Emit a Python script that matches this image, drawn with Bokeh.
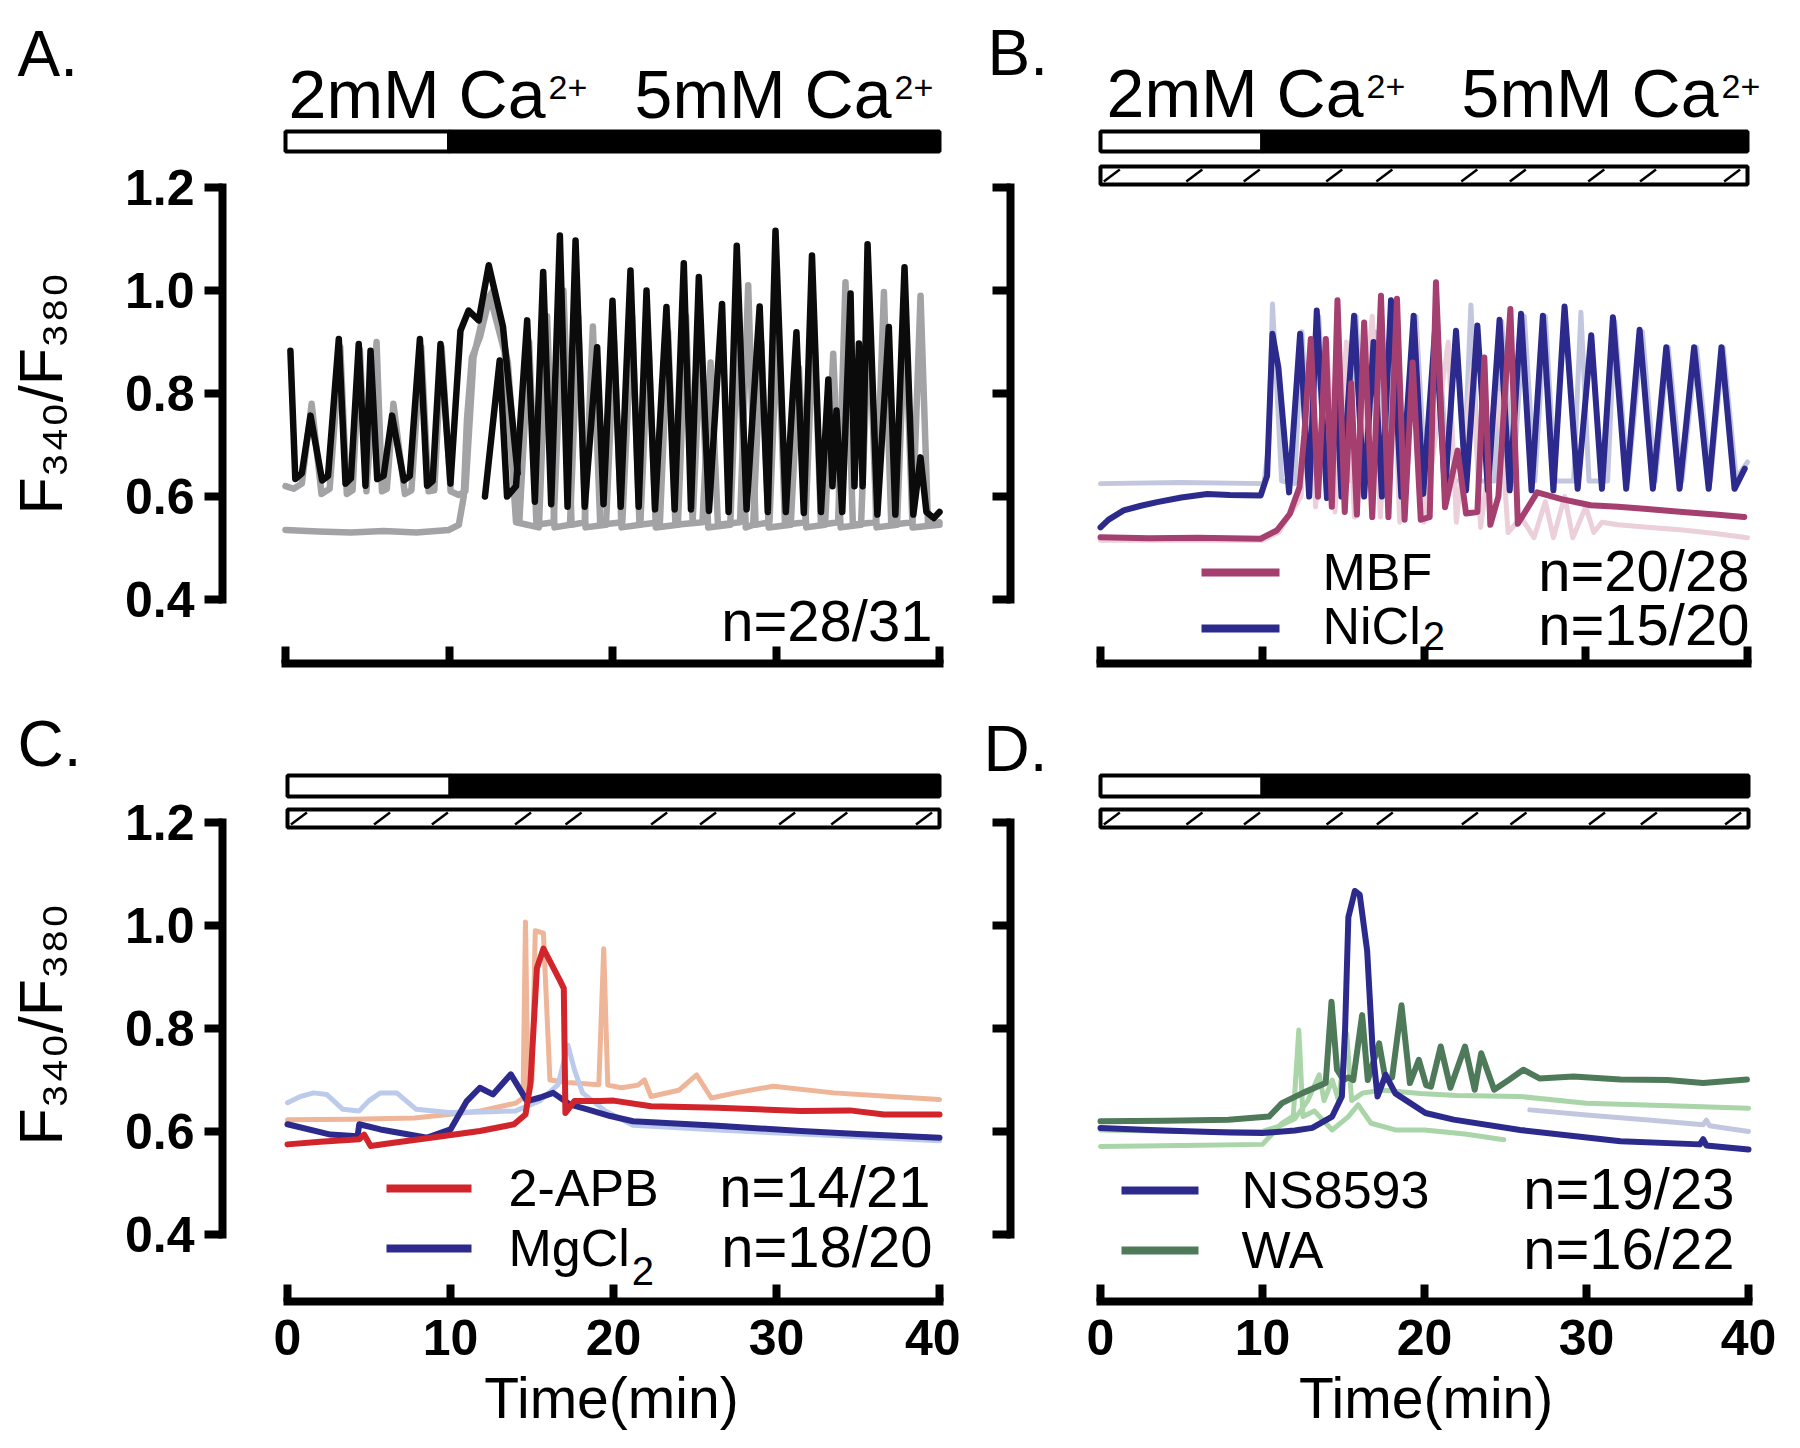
import math
from bokeh.plotting import figure
from bokeh.models import Range1d, FixedTicker, PrintfTickFormatter, CustomJSTickFormatter
from bokeh.layouts import column, row
from bokeh.core.properties import value
from bokeh.embed import file_html
from bokeh.resources import INLINE

FONT = "Liberation Sans"

# ---------------- data ----------------
TIME_TICKS = [0, 10, 20, 30, 40]
RATIO_TICKS = [0.4, 0.6, 0.8, 1.0, 1.2]
PHASE_START = [0, 10]      # 2 mM Ca2+ then 5 mM Ca2+
PHASE_END = [10, 40]
PHASE_FILL = ["white", "black"]

# Panel A (control)
A_BLACK1_T = [0.3, 0.6, 1.0, 1.53, 2.24, 2.6, 3.26, 3.67, 4.0, 4.48, 4.89, 5.2, 5.61, 6.0, 6.52, 7.24, 7.6, 8.22, 8.66, 9.0,
              9.48, 10.09, 10.7, 11.2, 11.82, 12.43, 13.3, 14.2]
A_BLACK1_R = [0.883, 0.634, 0.645, 0.757, 0.631, 0.64, 0.906, 0.625, 0.635, 0.896, 0.621, 0.883, 0.634, 0.64, 0.757, 0.631,
              0.64, 0.906, 0.621, 0.63, 0.896, 0.625, 0.922, 0.961, 0.942, 1.049, 0.93, 0.645]
A_BLACK2_T = [12.2, 13.1, 13.55, 14.1, 14.78, 15.25, 15.76, 16.25, 16.78, 17.25, 17.74, 18.3, 19.06, 19.45, 20.0, 20.5, 21.1,
              21.6, 22.08, 22.6, 23.3, 23.8, 24.36, 24.8, 25.28, 25.9, 26.7, 27.1, 27.6, 28.2, 29.0, 29.5, 29.97, 30.6,
              31.25, 31.7, 32.2, 32.75, 33.2, 33.45, 33.7, 34.05, 34.56, 34.8, 35.07, 35.3, 35.6, 36.2, 36.9, 37.3, 37.86,
              38.4, 38.84, 39.2, 39.65, 40.0]
A_BLACK2_R = [0.600, 0.864, 0.600, 0.62, 0.942, 0.59, 1.036, 0.585, 1.107, 0.58, 1.097, 0.58, 0.89, 0.585, 0.98, 0.58, 1.039,
              0.58, 1.0, 0.575, 0.968, 0.575, 1.053, 0.575, 1.026, 0.572, 0.974, 0.57, 1.087, 0.575, 0.969, 0.57, 1.116,
              0.57, 0.919, 0.568, 1.068, 0.57, 0.827, 0.62, 0.767, 0.57, 0.994, 0.62, 0.897, 0.62, 1.09, 0.565, 0.929,
              0.565, 1.045, 0.565, 0.676, 0.57, 0.558, 0.57]
A_GRAY1_T = [0.0, 0.5, 1.0, 1.6, 2.2, 2.7, 3.35, 3.75, 4.1, 4.55, 4.95, 5.57, 5.9, 6.2, 6.6, 7.3, 7.7, 8.3, 8.75, 9.1, 9.55,
             10.1, 10.6, 11.0, 11.5, 12.3, 12.7, 13.6, 14.3, 14.9, 15.35, 16.4, 17.0, 17.5, 18.3, 18.8, 19.25, 20.6, 21.2,
             21.65, 22.9, 23.4, 23.85, 25.5, 26.0, 26.45, 27.8, 28.3, 28.75, 29.6, 30.1, 30.55, 31.8, 32.3, 32.75, 33.8,
             34.25, 34.7, 36.1, 36.6, 37.05, 38.35, 38.84, 39.3, 40.0]
A_GRAY1_R = [0.62, 0.615, 0.625, 0.78, 0.605, 0.615, 0.89, 0.605, 0.612, 0.885, 0.61, 0.90, 0.61, 0.615, 0.78, 0.605, 0.612,
             0.89, 0.61, 0.612, 0.89, 0.61, 0.603, 0.61, 0.87, 0.98, 1.0, 0.86, 0.55, 0.90, 0.545, 0.55, 1.0, 0.545, 0.55,
             0.93, 0.545, 0.55, 0.95, 0.545, 0.55, 0.92, 0.545, 0.55, 0.86, 0.545, 0.55, 1.01, 0.545, 0.55, 0.95, 0.545,
             0.55, 0.95, 0.545, 0.55, 1.016, 0.545, 0.55, 0.997, 0.545, 0.55, 0.99, 0.545, 0.55]
A_GRAY2_T = [0.0, 2.0, 4.0, 6.0, 8.0, 10.0, 10.6, 10.9, 11.1, 11.4, 11.9, 12.5, 13.4, 14.1, 15.5, 16.0, 16.45, 17.4, 17.9,
             18.35, 19.6, 20.1, 20.55, 21.7, 22.2, 22.65, 24.0, 24.5, 24.9, 25.4, 25.85, 27.2, 27.7, 28.15, 28.6, 29.1,
             29.55, 30.9, 31.4, 31.85, 33.0, 33.5, 33.95, 35.2, 35.7, 36.15, 37.4, 37.9, 38.35, 40.0]
A_GRAY2_R = [0.535, 0.532, 0.53, 0.533, 0.53, 0.535, 0.545, 0.6, 0.75, 0.87, 0.91, 0.99, 0.88, 0.55, 0.54, 0.95, 0.54, 0.545,
             0.95, 0.54, 0.545, 0.90, 0.54, 0.545, 0.90, 0.54, 0.545, 0.95, 0.55, 0.90, 0.54, 0.545, 0.95, 0.54, 0.545,
             0.90, 0.54, 0.545, 0.85, 0.54, 0.545, 0.877, 0.54, 0.545, 0.95, 0.54, 0.545, 0.95, 0.54, 0.545]

# Panel B (MBF, NiCl2)
B_NI_T = [0.0, 0.5, 1.43, 2.5, 3.5, 5.0, 6.6, 8.0, 9.9, 10.3, 10.63, 11.0, 11.66, 12.34, 12.9, 13.37, 14.0, 14.6, 14.9,
          15.68, 16.3, 16.88, 17.4, 17.96, 18.6, 19.36, 19.95, 20.7, 21.3, 21.98, 22.6, 23.3, 23.95, 24.67, 25.3, 26.0,
          26.65, 27.35, 28.0, 28.69, 29.5, 30.34, 31.0, 31.68, 32.5, 33.33, 34.15, 34.98, 35.8, 36.7, 37.6, 38.39, 39.2,
          39.83]
B_NI_R = [0.54, 0.555, 0.573, 0.582, 0.589, 0.598, 0.605, 0.603, 0.602, 0.64, 0.916, 0.85, 0.608, 0.916, 0.600, 0.961,
          0.597, 0.80, 0.60, 0.951, 0.600, 0.90, 0.600, 0.981, 0.600, 0.951, 0.605, 0.93, 0.61, 0.922, 0.612, 0.932, 0.612,
          0.943, 0.612, 0.955, 0.612, 0.951, 0.612, 0.969, 0.615, 0.913, 0.615, 0.948, 0.615, 0.924, 0.615, 0.89, 0.615,
          0.89, 0.615, 0.89, 0.615, 0.654]
B_NI_LIGHT_T = [0.0, 5.0, 10.1, 10.4, 10.63, 11.2, 12.0, 12.45, 12.95, 13.5, 14.0, 15.35, 15.8, 16.4, 17.0, 17.55, 18.1,
                18.8, 19.5, 20.1, 20.8, 21.5, 22.45, 22.9, 23.4, 24.35, 24.8, 25.5, 26.2, 26.85, 27.5, 28.1, 29.25, 29.7,
                30.2, 31.35, 31.8, 32.6, 33.5, 34.3, 35.1, 35.95, 36.85, 37.7, 38.5, 39.3, 40.0]
B_NI_LIGHT_R = [0.625, 0.627, 0.625, 0.70, 0.974, 0.63, 0.625, 0.92, 0.63, 0.95, 0.63, 0.63, 0.95, 0.63, 0.92, 0.63, 0.97,
                0.63, 0.95, 0.63, 0.94, 0.63, 0.63, 0.972, 0.63, 0.63, 0.94, 0.63, 0.95, 0.63, 0.95, 0.63, 0.63, 0.958,
                0.63, 0.63, 0.94, 0.63, 0.92, 0.63, 0.89, 0.63, 0.89, 0.63, 0.89, 0.635, 0.667]
B_MBF_T = [0.0, 3.0, 6.0, 9.9, 10.9, 11.7, 12.3, 12.6, 13.0, 13.45, 13.93, 14.3, 14.65, 15.1, 15.5, 15.85, 16.3, 16.8,
           17.34, 17.8, 18.33, 18.8, 19.3, 19.8, 20.35, 20.74, 21.3, 22.08, 22.6, 23.3, 23.73, 24.1, 24.6, 25.34, 25.8,
           27.0, 28.5, 30.3, 32.0, 33.6, 36.0, 38.0, 39.8]
B_MBF_R = [0.521, 0.519, 0.52, 0.518, 0.534, 0.566, 0.618, 0.72, 0.906, 0.60, 0.906, 0.58, 0.981, 0.57, 0.82, 0.565, 0.938,
           0.56, 0.99, 0.56, 0.984, 0.555, 0.86, 0.555, 0.56, 1.016, 0.579, 0.689, 0.567, 0.57, 0.87, 0.545, 0.60, 0.964,
           0.547, 0.608, 0.595, 0.583, 0.58, 0.576, 0.57, 0.565, 0.56]
B_MBF_LIGHT_T = [0.0, 5.0, 10.0, 11.0, 12.0, 12.4, 12.8, 13.3, 14.0, 14.5, 15.2, 15.7, 16.8, 17.3, 18.0, 18.5, 19.5, 20.0,
                 21.5, 22.0, 23.0, 23.5, 24.6, 25.2, 26.0, 26.8, 27.5, 28.0, 28.7, 29.2, 30.0, 30.5, 31.0, 32.0, 34.0,
                 36.0, 38.0, 40.0]
B_MBF_LIGHT_R = [0.515, 0.515, 0.515, 0.53, 0.58, 0.60, 0.85, 0.58, 0.90, 0.57, 0.90, 0.56, 0.95, 0.56, 0.95, 0.55, 0.93,
                 0.55, 0.90, 0.55, 0.85, 0.54, 0.80, 0.53, 0.56, 0.52, 0.59, 0.52, 0.60, 0.52, 0.58, 0.53, 0.55, 0.545,
                 0.54, 0.535, 0.528, 0.52]

# Panel C (2-APB, MgCl2)
C_APB_T = [0.0, 2.0, 4.4, 4.7, 5.1, 6.5, 8.8, 11.8, 13.9, 14.6, 14.9, 15.3, 15.7, 16.75, 16.95, 17.05, 17.6, 19.2, 20.0,
           22.3, 26.4, 31.5, 34.5, 36.6, 40.0]
C_APB_R = [0.575, 0.58, 0.585, 0.594, 0.572, 0.578, 0.588, 0.601, 0.614, 0.633, 0.691, 0.917, 0.955, 0.891, 0.878, 0.636,
           0.659, 0.659, 0.66, 0.649, 0.646, 0.640, 0.641, 0.633, 0.633]
C_APB_LIGHT_T = [0.0, 4.0, 7.8, 11.84, 14.0, 14.45, 14.6, 14.75, 15.0, 15.2, 15.7, 16.1, 17.2, 19.1, 19.4, 19.65, 20.5,
                 21.5, 21.9, 22.3, 24.0, 25.1, 26.0, 27.5, 29.8, 33.5, 37.0, 40.0]
C_APB_LIGHT_R = [0.623, 0.624, 0.626, 0.64, 0.655, 0.665, 1.007, 0.68, 0.70, 0.99, 0.985, 0.70, 0.695, 0.691, 0.955, 0.69,
                 0.685, 0.69, 0.70, 0.668, 0.68, 0.71, 0.665, 0.675, 0.688, 0.675, 0.668, 0.662]
C_MG_T = [0.0, 2.64, 4.3, 4.4, 5.7, 8.57, 10.0, 11.0, 11.8, 12.6, 13.7, 14.7, 15.5, 16.3, 17.35, 18.4, 19.8, 21.2, 26.4,
          31.5, 35.0, 40.0]
C_MG_R = [0.614, 0.594, 0.591, 0.614, 0.604, 0.588, 0.604, 0.659, 0.685, 0.672, 0.711, 0.659, 0.666, 0.675, 0.652, 0.643,
          0.63, 0.62, 0.611, 0.601, 0.595, 0.588]
C_MG_LIGHT_T = [0.0, 0.8, 1.6, 2.4, 3.4, 4.4, 5.0, 5.7, 6.7, 7.9, 9.9, 12.0, 14.0, 15.5, 16.6, 17.2, 17.6, 18.1, 19.5, 21.2,
                26.4, 31.5, 40.0]
C_MG_LIGHT_R = [0.656, 0.668, 0.675, 0.672, 0.643, 0.64, 0.66, 0.675, 0.675, 0.643, 0.637, 0.638, 0.64, 0.66, 0.691, 0.768,
                0.72, 0.675, 0.64, 0.612, 0.603, 0.595, 0.582]

# Panel D (NS8593, WA)
D_NS_T = [0.0, 3.0, 5.86, 8.0, 9.98, 12.0, 13.07, 14.3, 14.9, 15.1, 15.3, 15.7, 16.0, 16.46, 16.8, 17.1, 17.6, 18.2, 20.06,
          21.8, 25.9, 32.1, 37.0, 37.2, 37.4, 40.0]
D_NS_R = [0.607, 0.603, 0.600, 0.598, 0.597, 0.602, 0.607, 0.629, 0.668, 0.8, 1.016, 1.067, 1.06, 0.951, 0.758, 0.668,
          0.71, 0.674, 0.636, 0.623, 0.603, 0.581, 0.575, 0.585, 0.573, 0.565]
D_NS_LIGHT_T = [26.5, 30.0, 34.0, 37.2, 37.4, 37.6, 40.0]
D_NS_LIGHT_R = [0.642, 0.632, 0.622, 0.613, 0.622, 0.611, 0.600]
D_WA_T = [0.0, 4.0, 7.9, 10.4, 11.2, 12.5, 13.9, 14.26, 14.6, 15.0, 15.3, 15.6, 16.15, 16.5, 17.2, 17.6, 18.0, 18.58, 19.1,
          19.65, 20.1, 20.4, 21.0, 21.6, 22.5, 23.1, 23.5, 24.3, 25.2, 26.1, 27.1, 29.2, 32.1, 35.0, 37.2, 39.9]
D_WA_R = [0.62, 0.621, 0.623, 0.629, 0.655, 0.675, 0.694, 0.852, 0.72, 0.70, 0.705, 0.70, 0.826, 0.70, 0.771, 0.70, 0.705,
          0.845, 0.694, 0.739, 0.69, 0.687, 0.765, 0.685, 0.765, 0.681, 0.752, 0.681, 0.70, 0.72, 0.703, 0.707, 0.701,
          0.70, 0.694, 0.701]
D_WA_LIGHT1_T = [0.0, 5.0, 10.0, 11.2, 11.9, 12.24, 12.5, 13.2, 14.3, 15.3, 15.9, 16.7, 18.2, 20.0, 22.5, 24.9]
D_WA_LIGHT1_R = [0.571, 0.573, 0.575, 0.616, 0.63, 0.797, 0.629, 0.64, 0.603, 0.629, 0.652, 0.616, 0.603, 0.603, 0.595,
                 0.584]
D_WA_LIGHT2_T = [0.0, 5.0, 10.0, 11.0, 12.0, 12.8, 13.5, 13.8, 14.3, 14.7, 15.2, 15.5, 16.2, 17.5, 19.75, 22.0, 25.9,
                 30.0, 36.2, 40.0]
D_WA_LIGHT2_R = [0.603, 0.6, 0.6, 0.61, 0.625, 0.66, 0.71, 0.66, 0.70, 0.66, 0.79, 0.66, 0.675, 0.68, 0.674, 0.67, 0.668,
                 0.655, 0.649, 0.645]

# ---------------- style ----------------
HATCH_X = [0.7, 5.8, 9.35, 14.45, 17.55, 22.8, 25.8, 30.65, 33.85, 39.05]
YLABEL = "F\u2083\u2084\u2080/F\u2083\u2088\u2080"
MID_SHIFT = 0.35   # distance from text middle to baseline, in font sizes

BLACK, GRAY = "#0b0b0b", "#a3a3a6"
NAVY, LAV = "#2c2a8c", "#c2c7df"
MAG, PINK = "#a43f70", "#ebcfda"
RED, PEACH = "#d1242b", "#efb598"
LBLUE = "#bccaec"
GREEN, LGREEN = "#4e7a5a", "#a9d5a9"


class Geo:
    """Maps page pixels to data units for one panel (time in min, F340/F380 ratio)."""
    def __init__(self, ox, oy, w, h, x0, x40, y12, y04, fleft, yaxis, xaxis, fright, ftop):
        self.ox, self.oy, self.w, self.h = ox, oy, w, h
        self.x0, self.y12 = x0, y12
        self.sx = (x40 - x0) / 40.0
        self.sy = (y04 - y12) / 0.8
        self.fleft, self.yaxis, self.xaxis, self.fright, self.ftop = fleft, yaxis, xaxis, fright, ftop

    def dx(self, X):
        return (X - self.x0) / self.sx

    def dy(self, Y):
        return 1.2 - (Y - self.y12) / self.sy

    def wx(self, px):
        return px / self.sx


# page geometry (pixels): left strip 0-100, column A/C 100-960, column B/D 960-1800
GA = Geo(100, 160, 860, 548, 285, 939, 187, 599, 222, 222, 663, 960, 160)
GB = Geo(960, 160, 840, 548, 1100, 1747, 187, 599, 978, 1010, 663, 1800, 160)
GC = Geo(100, 708, 860, 740, 287, 939, 822, 1234, 222, 222, 1301, 960, 708)
GD = Geo(960, 800, 840, 648, 1100, 1748, 822, 1234, 978, 1010, 1301, 1800, 800)


def make_fig(g, ylab, xlab=None):
    p = figure(width=g.w, height=g.h,
               x_range=Range1d(g.dx(g.fleft), g.dx(g.fright)),
               y_range=Range1d(g.dy(g.xaxis), g.dy(g.ftop)),
               output_backend="svg", toolbar_location=None, tools="",
               min_border_left=g.fleft - g.ox, min_border_right=g.ox + g.w - g.fright,
               min_border_top=g.ftop - g.oy, min_border_bottom=g.oy + g.h - g.xaxis)
    p.grid.visible = False
    p.outline_line_color = None
    p.background_fill_color = "white"
    p.border_fill_color = "white"
    for ax in (p.xaxis[0], p.yaxis[0]):
        ax.axis_line_color = "black"
        ax.axis_line_width = 8
        ax.axis_line_cap = "square"
        ax.major_tick_line_color = "black"
        ax.major_tick_line_width = 8
        ax.minor_tick_line_color = None
        ax.major_label_text_color = "black"
        ax.major_label_text_font = FONT
        ax.major_label_text_font_style = "bold"
        ax.major_label_text_font_size = "50px"
    ya = p.yaxis[0]
    ya.bounds = (0.4, 1.2)
    ya.ticker = FixedTicker(ticks=RATIO_TICKS)
    ya.major_tick_out = 18
    ya.major_tick_in = 0
    if g.yaxis != g.fleft:
        ya.fixed_location = g.dx(g.yaxis)
    if ylab:
        ya.formatter = PrintfTickFormatter(format="%.1f")
        ya.major_label_standoff = 10
    else:
        ya.formatter = CustomJSTickFormatter(code="return ''")
        ya.major_label_text_font_size = "0px"
        ya.major_label_standoff = 0
    xa = p.xaxis[0]
    xa.bounds = (0, 40)
    xa.ticker = FixedTicker(ticks=TIME_TICKS)
    xa.major_tick_in = 17
    xa.major_tick_out = 0
    if xlab:
        xa.major_label_standoff = 18
        xa.axis_label = xlab
        xa.axis_label_text_font = FONT
        xa.axis_label_text_font_size = "57px"
        xa.axis_label_text_font_style = "normal"
        xa.axis_label_text_color = "black"
        xa.axis_label_standoff = 8
    else:
        xa.formatter = CustomJSTickFormatter(code="return ''")
        xa.major_label_text_font_size = "0px"
        xa.major_label_standoff = 0
    return p


def make_strip(w, x_start, x_end, y_top, y_bot, border_left=0, border_right=0):
    """Figure without axes; x in the given units (frame spans the page between the borders), y in page pixels."""
    p = figure(width=w, height=y_bot - y_top, x_range=Range1d(x_start, x_end), y_range=Range1d(y_bot, y_top),
               output_backend="svg", toolbar_location=None, tools="", x_axis_type=None, y_axis_type=None,
               min_border_left=border_left, min_border_right=border_right, min_border_top=0, min_border_bottom=0)
    p.outline_line_color = None
    p.background_fill_color = "white"
    p.border_fill_color = "white"
    return p


def panel_strip(g, y_top, y_bot):
    return make_strip(g.w, g.dx(g.fleft), g.dx(g.fright), y_top, y_bot,
                      g.fleft - g.ox, g.ox + g.w - g.fright)


def glyph_text(p, x, y, s, size, align="left", angle=0.0):
    p.text(x=[x], y=[y], text=[s], text_font=value(FONT), text_font_size=value(f"{size}px"),
           text_align=align, text_baseline="middle", text_color="black", angle=angle)


def stext(p, x, Ybase, s, size, align="left"):
    glyph_text(p, x, Ybase - MID_SHIFT * size, s, size, align)


def ptext(p, g, X, Ybase, s, size, align="left"):
    glyph_text(p, g.dx(X), g.dy(Ybase - MID_SHIFT * size), s, size, align)


def trace(p, t, r, color, w):
    p.line(t, r, line_color=color, line_width=w, line_join="round", line_cap="round")


def phase_bar(p, y_top, y_bot):
    p.quad(left=PHASE_START, right=PHASE_END, bottom=y_bot, top=y_top,
           fill_color=PHASE_FILL, line_color="black", line_width=4)


def drug_bar(p, g, top_Y, bot_Y):
    p.quad(left=[0], right=[40], bottom=[g.dy(bot_Y)], top=[g.dy(top_Y)],
           fill_color="white", line_color="black", line_width=4)
    hw = g.wx(8)
    p.segment(x0=[h - hw for h in HATCH_X], y0=[g.dy(bot_Y - 3)] * len(HATCH_X),
              x1=[h + hw for h in HATCH_X], y1=[g.dy(top_Y + 3)] * len(HATCH_X),
              line_color="black", line_width=2.5)


def legend_line(p, g, X0, X1, Y, color):
    p.segment(x0=[g.dx(X0)], y0=[g.dy(Y)], x1=[g.dx(X1)], y1=[g.dy(Y)], line_color=color, line_width=8)


def header(p, g, end1, end2, base):
    stext(p, g.dx(end1), base, "2mM Ca", 68, "right")
    stext(p, g.dx(end1 + 3), base - 18, "2+", 34)
    stext(p, g.dx(end2), base, "5mM Ca", 68, "right")
    stext(p, g.dx(end2 + 3), base - 18, "2+", 34)


# ---------------- left strip: panel letters and y-axis titles ----------------
sL = make_strip(100, 0, 100, 0, 1448)
stext(sL, 17, 76, "A.", 64)
stext(sL, 17, 766, "C.", 64)
glyph_text(sL, 40, GA.y12 + 0.4 * GA.sy, YLABEL, 61, "center", math.pi / 2)
glyph_text(sL, 40, GC.y12 + 0.4 * GC.sy - 4, YLABEL, 61, "center", math.pi / 2)

# ---------------- panel A ----------------
tA = panel_strip(GA, 0, 160)
header(tA, GA, 545, 891, 117)
phase_bar(tA, 131, 151)

pA = make_fig(GA, True)
trace(pA, A_GRAY2_T, A_GRAY2_R, GRAY, 6.5)
trace(pA, A_GRAY1_T, A_GRAY1_R, GRAY, 6.5)
trace(pA, A_BLACK1_T, A_BLACK1_R, BLACK, 6.5)
trace(pA, A_BLACK2_T, A_BLACK2_R, BLACK, 6.5)
ptext(pA, GA, 932, 640, "n=28/31", 58, "right")

# ---------------- panel B ----------------
tB = panel_strip(GB, 0, 160)
stext(tB, GB.dx(987), 75, "B.", 64)
header(tB, GB, 1363, 1718, 116)
phase_bar(tB, 131, 151)

pB = make_fig(GB, False)
trace(pB, B_NI_LIGHT_T, B_NI_LIGHT_R, LAV, 5)
trace(pB, B_MBF_LIGHT_T, B_MBF_LIGHT_R, PINK, 5)
trace(pB, B_NI_T, B_NI_R, NAVY, 6)
trace(pB, B_MBF_T, B_MBF_R, MAG, 6)
drug_bar(pB, GB, 166, 184)
legend_line(pB, GB, 1201, 1279, 572, MAG)
legend_line(pB, GB, 1201, 1279, 628, NAVY)
ptext(pB, GB, 1322, 590, "MBF", 52)
ptext(pB, GB, 1749, 590, "n=20/28", 58, "right")
ptext(pB, GB, 1322, 644, "NiCl", 52)
ptext(pB, GB, 1322 + 1.888 * 52 + 2, 649, "2", 40)
ptext(pB, GB, 1749, 644, "n=15/20", 58, "right")

# ---------------- panel C ----------------
pC = make_fig(GC, True, "\u2002\u2009Time(min)")
trace(pC, C_APB_LIGHT_T, C_APB_LIGHT_R, PEACH, 5)
trace(pC, C_MG_LIGHT_T, C_MG_LIGHT_R, LBLUE, 5)
trace(pC, C_MG_T, C_MG_R, NAVY, 6)
trace(pC, C_APB_T, C_APB_R, RED, 6)
phase_bar(pC, GC.dy(775), GC.dy(796))
drug_bar(pC, GC, 809, 827)
legend_line(pC, GC, 386, 471, 1188, RED)
legend_line(pC, GC, 386, 471, 1248, NAVY)
ptext(pC, GC, 508, 1206, "2-APB", 52)
ptext(pC, GC, 930, 1206, "n=14/21", 58, "right")
ptext(pC, GC, 508, 1266, "MgCl", 52)
ptext(pC, GC, 508 + 2.333 * 52 + 2, 1284, "2", 40)
ptext(pC, GC, 932, 1266, "n=18/20", 58, "right")

# ---------------- panel D ----------------
tD = panel_strip(GD, 708, 800)
stext(tD, GD.dx(983), 771, "D.", 64)
phase_bar(tD, 775, 796)

pD = make_fig(GD, False, "\u2003\u2009\u200aTime(min)")
trace(pD, D_WA_LIGHT1_T, D_WA_LIGHT1_R, LGREEN, 5)
trace(pD, D_WA_LIGHT2_T, D_WA_LIGHT2_R, LGREEN, 5)
trace(pD, D_NS_LIGHT_T, D_NS_LIGHT_R, LAV, 5)
trace(pD, D_WA_T, D_WA_R, GREEN, 6)
trace(pD, D_NS_T, D_NS_R, NAVY, 6)
drug_bar(pD, GD, 809, 827)
legend_line(pD, GD, 1121, 1198, 1190, NAVY)
legend_line(pD, GD, 1121, 1198, 1250, GREEN)
ptext(pD, GD, 1241, 1208, "NS8593", 52)
ptext(pD, GD, 1734, 1208, "n=19/23", 58, "right")
ptext(pD, GD, 1241, 1268, "WA", 52)
ptext(pD, GD, 1734, 1268, "n=16/22", 58, "right")

layout = row(sL, column(tA, pA, pC), column(tB, pB, tD, pD))
open("out.html", "w").write(file_html(layout, INLINE))
